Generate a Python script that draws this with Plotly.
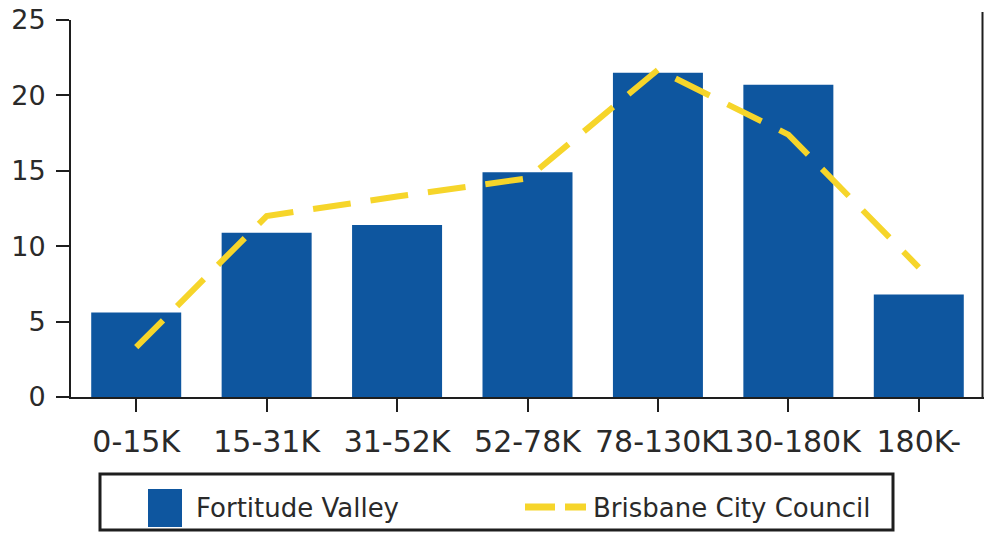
import plotly.graph_objects as go


# ==========================================================
# DATA
# ==========================================================

income_bands = ["0-15K", "15-31K", "31-52K", "52-78K", "78-130K", "130-180K", "180K-"]
fortitude_valley = [5.6, 10.9, 11.4, 14.9, 21.5, 20.7, 6.8]
brisbane_council = [3.3, 12.0, 13.3, 14.5, 21.7, 17.4, 8.6]

BLUE = "#0E569F"
YELLOW = "#F6D52A"
AXIS = "#1E1E1E"
FONT = "DejaVu Sans"

FIG_W, FIG_H = 985, 545

# plot area in pixels (for placing the hand drawn legend box)
PX_LEFT, PX_RIGHT = 71, 984
PX_TOP, PX_BOTTOM = 20, 397


def px_x(px):
    return (px - PX_LEFT) / (PX_RIGHT - PX_LEFT)


def px_y(py):
    return (PX_BOTTOM - py) / (PX_BOTTOM - PX_TOP)


# ==========================================================
# FIGURE
# ==========================================================

fig = go.Figure()

fig.add_trace(
    go.Bar(
        x=income_bands,
        y=fortitude_valley,
        name="Fortitude Valley",
        marker=dict(color=BLUE, line=dict(width=0)),
        showlegend=False
    )
)

fig.add_trace(
    go.Scatter(
        x=income_bands,
        y=brisbane_council,
        mode="lines",
        name="Brisbane City Council",
        line=dict(color=YELLOW, width=6, dash="38px,20px"),
        showlegend=False
    )
)

fig.update_layout(
    width=FIG_W,
    height=FIG_H,
    margin=dict(
        l=PX_LEFT,
        r=FIG_W - PX_RIGHT,
        t=PX_TOP,
        b=FIG_H - PX_BOTTOM,
        autoexpand=False
    ),
    plot_bgcolor="white",
    paper_bgcolor="white",
    bargap=0.31,
    font=dict(family=FONT, color="#2a2a2a")
)

fig.update_xaxes(
    showline=True,
    linecolor=AXIS,
    linewidth=2,
    ticks="outside",
    ticklen=13,
    tickwidth=2,
    tickcolor=AXIS,
    tickangle=0,
    tickfont=dict(size=30),
    ticklabelstandoff=4,
    showgrid=False
)

fig.update_yaxes(
    range=[0, 25],
    dtick=5,
    showline=True,
    linecolor=AXIS,
    linewidth=2,
    ticks="outside",
    ticklen=13,
    tickwidth=2,
    tickcolor=AXIS,
    tickfont=dict(size=27),
    ticklabelstandoff=5,
    ticklabeloverflow="allow",
    showgrid=False,
    zeroline=False
)

# right hand border line
fig.add_shape(
    type="line", xref="paper", yref="paper",
    x0=px_x(982.5), x1=px_x(982.5), y0=0, y1=px_y(12),
    line=dict(color=AXIS, width=2)
)

# ==========================================================
# LEGEND BOX
# ==========================================================

fig.add_shape(
    type="rect", xref="paper", yref="paper",
    x0=px_x(100), x1=px_x(893), y0=px_y(530), y1=px_y(474),
    line=dict(color=AXIS, width=3),
    fillcolor="white"
)

fig.add_shape(
    type="rect", xref="paper", yref="paper",
    x0=px_x(148), x1=px_x(182), y0=px_y(527), y1=px_y(489),
    line=dict(width=0),
    fillcolor=BLUE
)

fig.add_shape(
    type="line", xref="paper", yref="paper",
    x0=px_x(525), x1=px_x(586), y0=px_y(507), y1=px_y(507),
    line=dict(color=YELLOW, width=7, dash="30px,10px")
)

fig.add_annotation(
    xref="paper", yref="paper",
    x=px_x(194), y=px_y(508),
    text="Fortitude Valley",
    showarrow=False,
    xanchor="left", yanchor="middle",
    font=dict(size=26)
)

fig.add_annotation(
    xref="paper", yref="paper",
    x=px_x(591), y=px_y(508),
    text="Brisbane City Council",
    showarrow=False,
    xanchor="left", yanchor="middle",
    font=dict(size=26)
)

# drop the browser's default 8px body margin so the figure sits at (0, 0)
fig.write_html(
    "out.html",
    config={"displayModeBar": False},
    post_script="document.body.style.margin = '0'; document.body.style.overflow = 'hidden';"
)
